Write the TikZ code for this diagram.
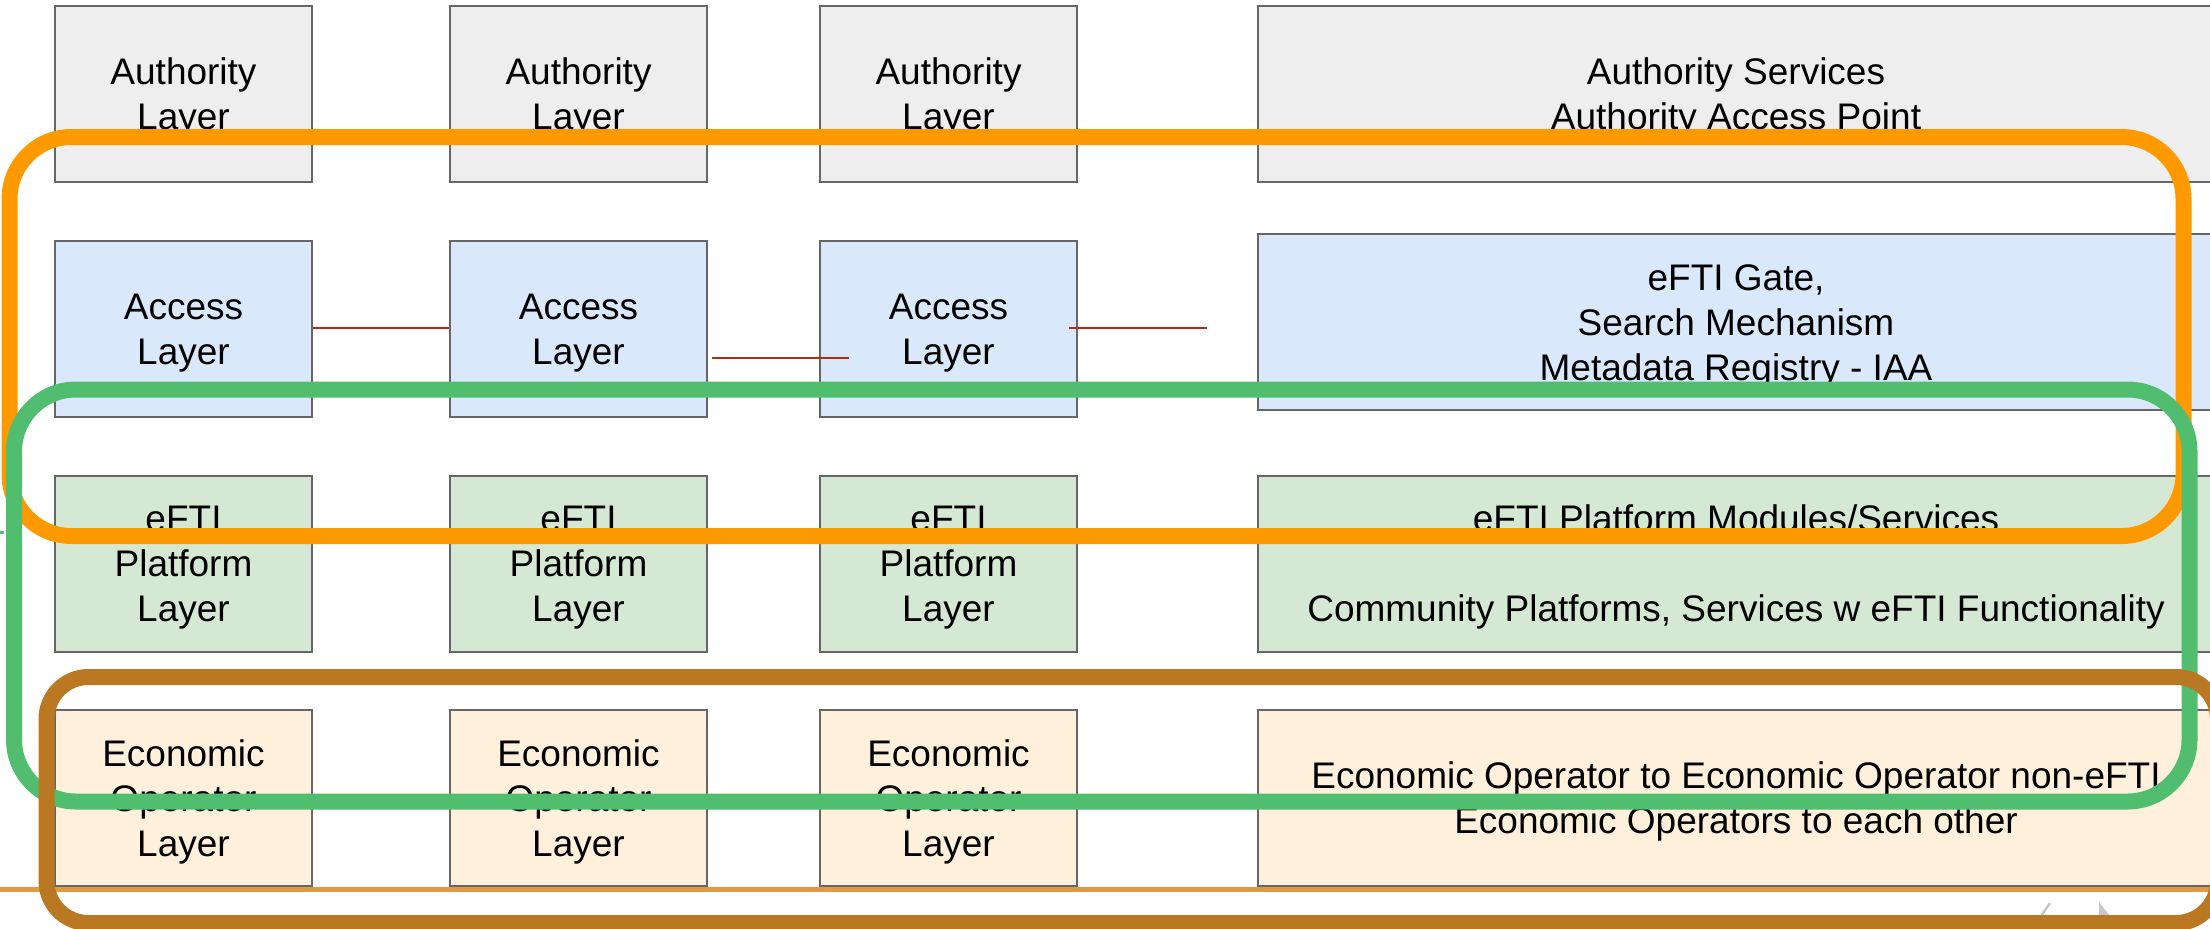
\documentclass[tikz,border=0pt]{standalone}
\usepackage{fontspec}
\setmainfont{Liberation Sans}
\definecolor{boxline}{HTML}{666666}
\definecolor{authfill}{HTML}{EEEEEE}
\definecolor{accfill}{HTML}{DAE8FC}
\definecolor{platfill}{HTML}{D5E8D4}
\definecolor{ecofill}{HTML}{FFF0DC}
\definecolor{redline}{HTML}{B8290F}
\definecolor{orangeline}{HTML}{FF9900}
\definecolor{greenline}{HTML}{50BE6E}
\definecolor{brownline}{HTML}{BB7822}
\definecolor{tanline}{HTML}{E09A44}
\newcommand{\boxtext}[1]{\raisebox{-2pt}[\height][\depth]{\begin{tabular}{@{}c@{}}#1\end{tabular}}}
\begin{document}
\begin{tikzpicture}[x=0.5pt,y=-0.5pt,
  layerbox/.style={draw=boxline, line width=1pt, minimum width=128.5pt, minimum height=88pt,
     align=center, inner sep=0pt, font=\fontsize{18.5}{22.5}\selectfont},
  widebox/.style={layerbox, minimum width=478pt},
  link/.style={draw=redline, line width=1.3pt},
  groupbox/.style={line width=8pt, rounded corners=31pt}
]
\useasboundingbox (0,0) rectangle (2210,928);
% row 1
\node[layerbox, fill=authfill] (au1) at (183.5,94) {\boxtext{Authority\\Layer}};
\node[layerbox, fill=authfill] (au2) at (578.5,94) {\boxtext{Authority\\Layer}};
\node[layerbox, fill=authfill] (au3) at (948.5,94) {\boxtext{Authority\\Layer}};
\node[widebox, fill=authfill] (au4) at (1736,94) {\boxtext{Authority Services\\Authority Access Point}};
% row 2
\node[layerbox, fill=accfill] (ac1) at (183.5,328.5) {\boxtext{Access\\Layer}};
\node[layerbox, fill=accfill] (ac2) at (578.5,328.5) {\boxtext{Access\\Layer}};
\node[layerbox, fill=accfill] (ac3) at (948.5,328.5) {\boxtext{Access\\Layer}};
\node[widebox, fill=accfill] (ac4) at (1736,322) {\boxtext{eFTI Gate,\\Search Mechanism\\Metadata Registry - IAA}};
% row 3
\node[layerbox, fill=platfill] (pl1) at (183.5,563.5) {\boxtext{eFTI\\Platform\\Layer}};
\node[layerbox, fill=platfill] (pl2) at (578.5,563.5) {\boxtext{eFTI\\Platform\\Layer}};
\node[layerbox, fill=platfill] (pl3) at (948.5,563.5) {\boxtext{eFTI\\Platform\\Layer}};
\node[widebox, fill=platfill] (pl4) at (1736,563.5) {\boxtext{eFTI Platform Modules/Services\\\mbox{}\\Community Platforms, Services w eFTI Functionality}};
% row 4
\node[layerbox, fill=ecofill] (ec1) at (183.5,798) {\boxtext{Economic\\Operator\\Layer}};
\node[layerbox, fill=ecofill] (ec2) at (578.5,798) {\boxtext{Economic\\Operator\\Layer}};
\node[layerbox, fill=ecofill] (ec3) at (948.5,798) {\boxtext{Economic\\Operator\\Layer}};
\node[widebox, fill=ecofill] (ec4) at (1736,798) {\boxtext{Economic Operator to Economic Operator non-eFTI\\Economic Operators to each other}};
% red links
\coordinate (l2a) at (712,358);
\coordinate (l2b) at (849,358);
\coordinate (l3a) at (1069,328);
\coordinate (l3b) at (1207,328);
\draw[link] (ac1.east |- 0,328) -- (ac2.west |- 0,328);
\draw[link] (l2a) -- (l2b);
\draw[link] (l3a) -- (l3b);
% tan line
\coordinate (tanL) at (0,889.5);
\coordinate (tanR) at (2210,889.5);
\draw[tanline, line width=2.7pt] (tanL) -- (tanR);
% faint grey marks
\coordinate (gm1) at (2041,916);
\coordinate (gm2) at (2050,903);
\draw[black!22, line width=1.2pt] (gm1) -- (gm2);
\coordinate (gm3) at (2099,902);
\fill[black!22] (gm3) -- (2099,916) -- (2110,916) -- cycle;
% group outlines
\draw[groupbox, orangeline] (9.5,137) rectangle (2183.5,536);
\coordinate (gt1) at (0,532.5);
\coordinate (gt2) at (4,532.5);
\draw[greenline, line width=1.5pt] (gt1) -- (gt2);
\draw[groupbox, greenline] (14,389.5) rectangle (2189.5,801.5);
\draw[groupbox, brownline, rounded corners=21pt] (46.5,677) rectangle (2218,923);
\end{tikzpicture}
\end{document}
